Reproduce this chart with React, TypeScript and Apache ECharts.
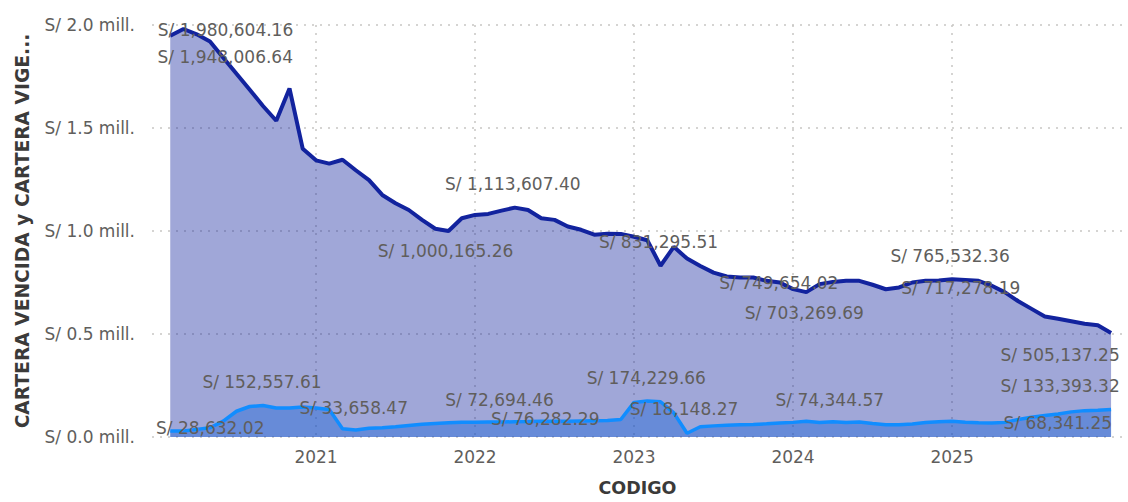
import React, { useEffect, useRef } from "react";
import * as echarts from "echarts";

// Months (end-of-month points), Jan 2020 .. Dec 2025
const months: string[] = [
  "2020-01", "2020-02", "2020-03", "2020-04", "2020-05", "2020-06", "2020-07", "2020-08", "2020-09", "2020-10", "2020-11", "2020-12",
  "2021-01", "2021-02", "2021-03", "2021-04", "2021-05", "2021-06", "2021-07", "2021-08", "2021-09", "2021-10", "2021-11", "2021-12",
  "2022-01", "2022-02", "2022-03", "2022-04", "2022-05", "2022-06", "2022-07", "2022-08", "2022-09", "2022-10", "2022-11", "2022-12",
  "2023-01", "2023-02", "2023-03", "2023-04", "2023-05", "2023-06", "2023-07", "2023-08", "2023-09", "2023-10", "2023-11", "2023-12",
  "2024-01", "2024-02", "2024-03", "2024-04", "2024-05", "2024-06", "2024-07", "2024-08", "2024-09", "2024-10", "2024-11", "2024-12",
  "2025-01", "2025-02", "2025-03", "2025-04", "2025-05", "2025-06", "2025-07", "2025-08", "2025-09", "2025-10", "2025-11", "2025-12",
];

// Year tick labels and their position (months since Jan 2020)
const yearLabels: string[] = ["2021", "2022", "2023", "2024", "2025"];
const yearTickValues: number[] = [12, 24, 36, 48, 60];

// CARTERA VIGENTE (dark blue)
const carteraVigente: number[] = [
  1948006.64, 1980604.16, 1955000, 1920000, 1841000, 1763000, 1686000, 1607000, 1535000, 1692000, 1399000, 1343000,
  1327000, 1346000, 1295000, 1247000, 1175000, 1135000, 1102000, 1054000, 1011000, 1000165.26, 1062000, 1078000,
  1083000, 1099000, 1113607.4, 1102000, 1062000, 1054000, 1022000, 1006000, 982000, 987000, 986000, 972000,
  955000, 831295.51, 923000, 866000, 830000, 798000, 779000, 774000, 774000, 758000, 749654.02, 718000,
  703269.69, 742000, 753000, 758000, 758000, 739000, 717278.19, 726000, 750000, 758000, 760000, 765532.36,
  762000, 758000, 734000, 702000, 659000, 622000, 585000, 574000, 562000, 550000, 542000, 505137.25,
];

// CARTERA VENCIDA (light blue)
const carteraVencida: number[] = [
  28632.02, 29000, 37000, 45000, 77000, 125000, 148000, 152557.61, 141000, 141000, 146000, 141000,
  133000, 40000, 33658.47, 42000, 45000, 50000, 56000, 62000, 66000, 69000, 71000, 72000,
  73000, 72694.46, 74000, 75000, 76282.29, 76000, 77000, 78000, 79000, 80000, 85000, 168000,
  174229.66, 171000, 117000, 18148.27, 50000, 54000, 57000, 59000, 61000, 64000, 68000, 71000,
  76000, 70000, 74344.57, 70000, 73000, 66000, 60000, 60000, 63000, 70000, 74000, 76000,
  72000, 69000, 68341.25, 71000, 85000, 96000, 104000, 112000, 122000, 128000, 130000, 133393.32,
];

// Which points carry a data label, and where the label sits relative to the point (px)
const vigenteLabels: Record<number, [number, number]> = {
  0: [55, 21], 1: [42, 1], 21: [-3, 20], 26: [-2, -24], 37: [-2, -24], 46: [-1, 0],
  48: [-2, 21], 54: [75, -1], 59: [-2, -23], 71: [-51, 22],
};
const vencidaLabels: Record<number, [number, number]> = {
  0: [40, -3], 7: [-1, -24], 14: [-2, -22], 25: [-2, -22], 28: [4, -2], 36: [-1, -23],
  39: [-3, -24], 50: [-3, -22], 62: [66, 0], 71: [-51, -24],
};

const FONT = "DejaVu Sans";
const LABEL_COLOR = "#605E5C";

const fmtMoney = (v: number) =>
  "S/ " + v.toLocaleString("en-US", { minimumFractionDigits: 2, maximumFractionDigits: 2 });

function buildData(values: number[], labels?: Record<number, [number, number]>) {
  return values.map((v, k) => {
    const x = k + 1; // end of month k
    const off = labels ? labels[k] : undefined;
    if (!off) return { value: [x, v] };
    return {
      value: [x, v],
      label: {
        show: true,
        position: "inside",
        offset: off,
        formatter: () => fmtMoney(v),
        color: LABEL_COLOR,
        fontFamily: FONT,
        fontSize: 17,
        opacity: 1,
      },
    };
  });
}

export default function App() {
  const ref = useRef<HTMLDivElement>(null);

  useEffect(() => {
    if (!ref.current) return;
    const chart = echarts.init(ref.current, undefined, { renderer: "svg" });
    const invisibleItem = { color: "rgba(0,0,0,0)", borderWidth: 0 };

    chart.setOption({
      animation: false,
      backgroundColor: "#ffffff",
      grid: { left: 152, right: 5, top: 25, bottom: 61, containLabel: false },
      xAxis: {
        type: "value",
        min: -0.377,
        max: 72.9,
        name: "CODIGO",
        nameLocation: "middle",
        nameGap: 42,
        nameTextStyle: { fontFamily: FONT, fontSize: 17.5, fontWeight: "bold", color: "#3B3A39" },
        axisLine: { show: false },
        axisTick: { show: false, customValues: yearTickValues },
        axisLabel: {
          customValues: yearTickValues,
          formatter: (v: number) => {
            const i = yearTickValues.indexOf(Math.round(v));
            return i >= 0 ? yearLabels[i] : "";
          },
          fontFamily: FONT,
          fontSize: 17,
          color: LABEL_COLOR,
          margin: 11,
        },
        splitLine: {
          show: true,
          lineStyle: { color: "#C8C6C4", width: 1.5, type: [2, 6] },
        },
      },
      yAxis: {
        type: "value",
        min: 0,
        max: 2000000,
        interval: 500000,
        name: "CARTERA VENCIDA y CARTERA VIGE...",
        nameLocation: "middle",
        nameRotate: 90,
        nameGap: 120,
        nameTextStyle: { fontFamily: FONT, fontSize: 18.7, fontWeight: "bold", color: "#3B3A39" },
        axisLine: { show: false },
        axisTick: { show: false },
        axisLabel: {
          formatter: (v: number) => "S/ " + (v / 1000000).toFixed(1) + " mill.",
          fontFamily: FONT,
          fontSize: 17,
          color: LABEL_COLOR,
          margin: 17,
        },
        splitLine: {
          show: true,
          lineStyle: { color: "#C8C6C4", width: 1.5, type: [2, 6] },
        },
      },
      series: [
        {
          name: "CARTERA VENCIDA area",
          type: "line",
          z: 1,
          data: buildData(carteraVencida),
          showSymbol: false,
          lineStyle: { width: 0, opacity: 0 },
          areaStyle: { color: "#118DFF", opacity: 0.4 },
          silent: true,
        },
        {
          name: "CARTERA VIGENTE",
          type: "line",
          z: 2,
          data: buildData(carteraVigente, vigenteLabels),
          symbol: "circle",
          symbolSize: 1,
          showSymbol: true,
          itemStyle: invisibleItem,
          lineStyle: { width: 4, color: "#12239E" },
          areaStyle: { color: "#12239E", opacity: 0.4 },
          label: { show: false },
        },
        {
          name: "CARTERA VENCIDA",
          type: "line",
          z: 3,
          data: buildData(carteraVencida, vencidaLabels),
          symbol: "circle",
          symbolSize: 1,
          showSymbol: true,
          itemStyle: invisibleItem,
          lineStyle: { width: 3.5, color: "#118DFF" },
          label: { show: false },
        },
      ],
    });

    return () => chart.dispose();
  }, []);

  return (
    <div
      ref={ref}
      style={{ position: "absolute", left: 0, top: 0, width: 1128, height: 502 }}
    />
  );
}
